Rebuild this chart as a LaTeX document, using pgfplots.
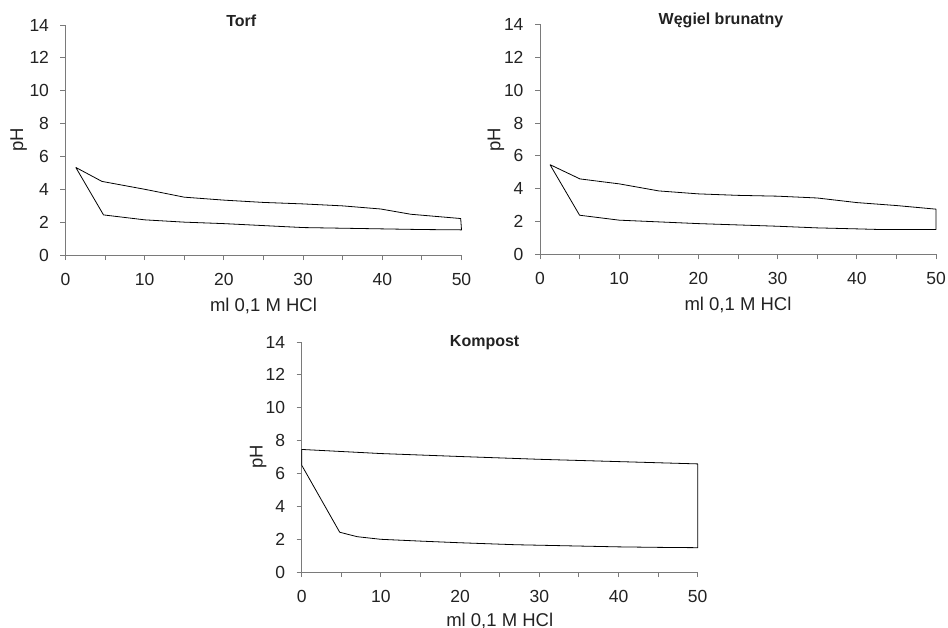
\documentclass[border=0pt]{standalone}
\usepackage{fontspec}
\setmainfont{Liberation Sans}
\usepackage{pgfplots}
\pgfplotsset{compat=1.18}
\definecolor{axgray}{HTML}{7A7A7A}
\definecolor{txt}{HTML}{222222}

\pgfplotsset{
  titr/.style={
    scale only axis, width=396pt, height=230pt,
    xmin=0, xmax=50, ymin=0, ymax=14,
    axis lines*=left,
    axis line style={axgray, line width=0.9pt},
    xtick={0,10,...,50}, minor xtick={5,15,...,45},
    ytick={0,2,...,14},
    tick align=outside,
    major tick length=5pt, minor tick length=5pt,
    every tick/.style={axgray, line width=0.9pt},
    tick label style={font=\fontsize{17.5}{17.5}\selectfont, text=txt},
    yticklabel style={xshift=-8pt},
    xticklabel style={yshift=-9.5pt},
    /pgf/number format/assume math mode=true,
    xlabel={ml 0,1 M HCl}, ylabel={pH},
    label style={font=\fontsize{18.5}{19}\selectfont, text=txt},
    title style={font=\bfseries\fontsize{16}{16}\selectfont, text=txt, anchor=center},
    clip=false,
  },
  curve/.style={black, line width=0.8pt, line join=round, mark=none},
}

\begin{document}
\begin{tikzpicture}
\useasboundingbox (0,0) rectangle (948pt,-628pt);

% Torf
\begin{axis}[titr, at={(65.5pt,-255pt)}, anchor=south west,
  title={Torf}, title style={at={(axis description cs:0.444,1)}, yshift=-2pt},
  ylabel style={at={(axis description cs:-0.118,0.5)}, anchor=center},
  xlabel style={at={(axis description cs:0.5,0)}, anchor=base, yshift=-56pt}]
\addplot[curve] coordinates {
 (1.3,5.33) (4.6,4.48) (10,4.0) (15,3.52) (20,3.34) (25,3.2) (30,3.11)
 (35,2.99) (39.8,2.8) (43.6,2.48) (49.9,2.22) (50,1.53) (45,1.55)
 (40,1.59) (30,1.67) (20,1.91) (15,2.0) (10,2.14) (4.8,2.44) (1.3,5.33)
};
\end{axis}

% Wegiel brunatny
\begin{axis}[titr, at={(540pt,-254.5pt)}, anchor=south west,
  title={Węgiel brunatny}, title style={at={(axis description cs:0.457,1)}, yshift=-2pt},
  ylabel style={at={(axis description cs:-0.111,0.5)}, anchor=center},
  xlabel style={at={(axis description cs:0.5,0)}, anchor=base, yshift=-56pt}]
\addplot[curve] coordinates {
 (1.26,5.47) (5.05,4.6) (10,4.3) (15,3.87) (20,3.69) (25,3.6) (30,3.55)
 (35,3.44) (40,3.16) (45,2.98) (50,2.76) (50,1.52) (43,1.52) (40,1.56)
 (35,1.62) (30,1.72) (20,1.88) (10,2.09) (5,2.39) (1.26,5.47)
};
\end{axis}

% Kompost
\begin{axis}[titr, at={(301.7pt,-572pt)}, anchor=south west,
  title={Kompost}, title style={at={(axis description cs:0.462,1)}, yshift=-7pt},
  ylabel style={at={(axis description cs:-0.110,0.5)}, anchor=center},
  xlabel style={at={(axis description cs:0.5,0)}, anchor=base, yshift=-54pt}]
\addplot[curve] coordinates {
 (0,7.46) (10,7.21) (20,7.03) (30,6.86) (40,6.72) (50,6.58) (50,1.48)
 (45,1.5) (40,1.53) (35,1.58) (27,1.66) (20,1.78) (15,1.88) (10,1.99)
 (7,2.15) (4.8,2.42) (0,6.5) (0,7.46)
};
\end{axis}
\end{tikzpicture}
\end{document}
